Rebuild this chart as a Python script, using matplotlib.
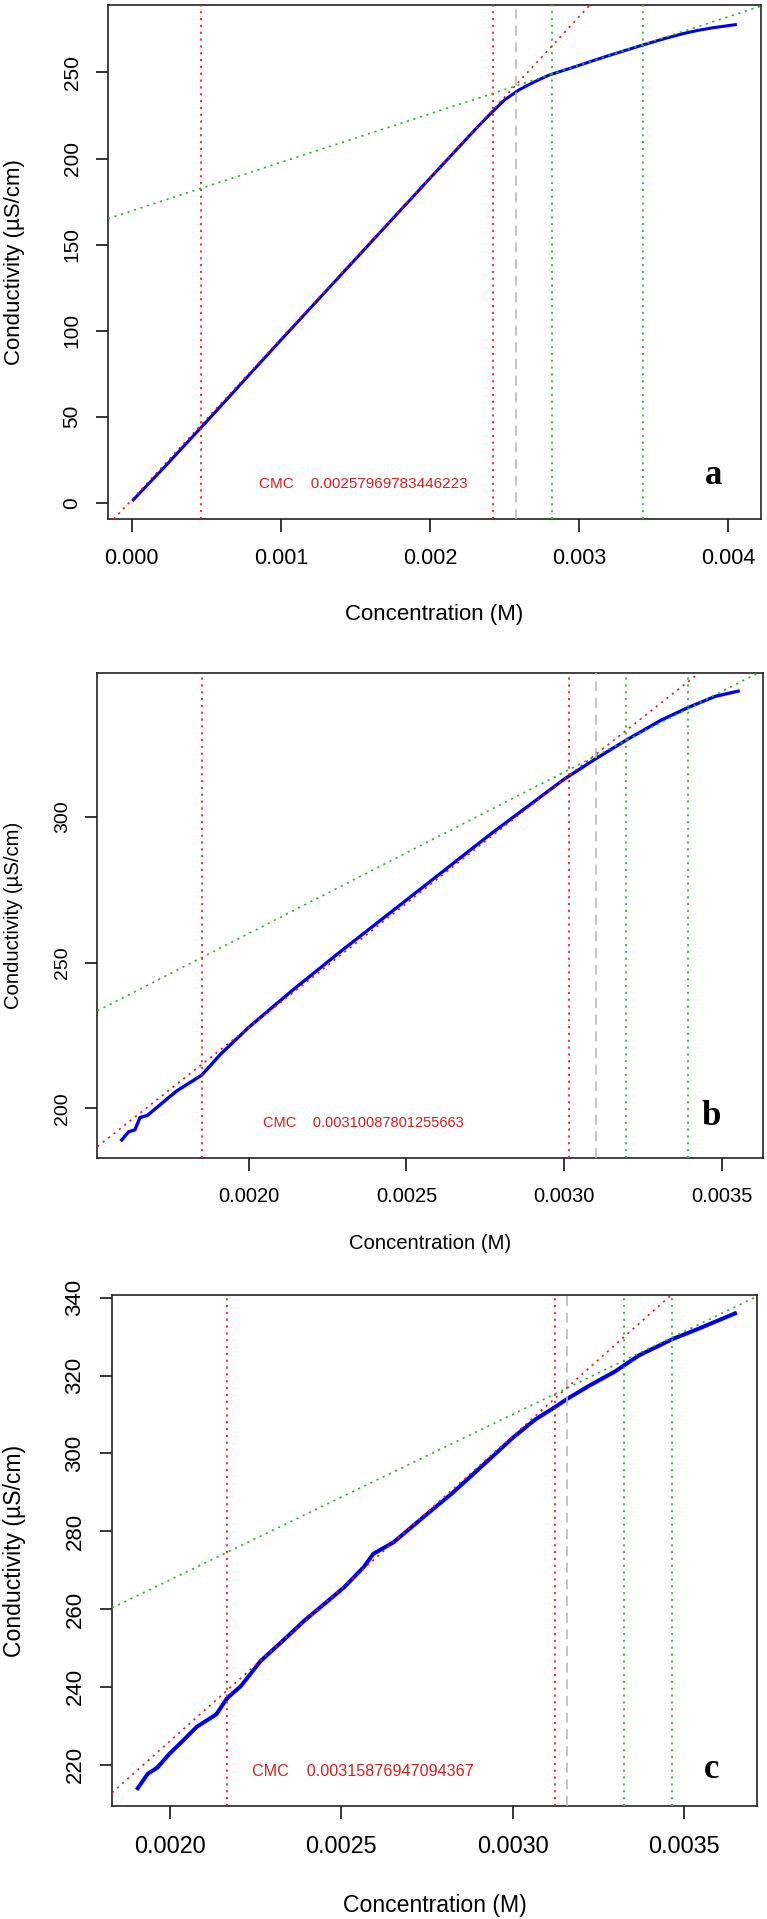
import matplotlib
matplotlib.use("Agg")
import matplotlib.pyplot as plt

plt.rcParams['font.family'] = ['Liberation Sans', 'DejaVu Sans']

# ---- panel a ----
conc_a = [0.00001, 0.0002, 0.0005, 0.0010, 0.0015, 0.0020, 0.0023, 0.0024, 0.0025,
          0.0026, 0.0027, 0.0028, 0.0029, 0.0030, 0.0031, 0.0032, 0.0033, 0.0034,
          0.0035, 0.0036, 0.0037, 0.0038, 0.0039, 0.0040, 0.00405]
cond_a = [1.7, 19.0, 47.0, 94.5, 141.5, 188.5, 216.5, 225.5, 234.0,
          240.0, 244.5, 248.5, 251.3, 254.1, 257.0, 259.8, 262.5, 265.2,
          267.8, 270.3, 272.6, 274.5, 276.0, 277.2, 277.8]
red_vlines_a = [0.000462, 0.002421]
green_vlines_a = [0.002818, 0.003432]
cmc_a = 0.00257969783446223
red_fit_a = (1.8, 93500)      # intercept, slope
green_fit_a = (169.6, 28180)

# ---- panel b ----
conc_b = [0.001598, 0.00162, 0.00164, 0.001656, 0.001679, 0.00171, 0.001772, 0.001851,
          0.001912, 0.0020, 0.002144, 0.002299, 0.0025, 0.002765, 0.0030, 0.0031,
          0.003195, 0.003308, 0.003393, 0.003478, 0.003551]
cond_b = [189.2, 192.0, 192.7, 196.9, 197.6, 200.4, 206.0, 211.4,
          218.7, 227.8, 241.0, 254.5, 271.5, 294.0, 313.0, 320.0,
          326.3, 333.3, 337.6, 341.4, 343.2]
red_vlines_b = [0.001851, 0.0030146]
green_vlines_b = [0.0031945, 0.0033931]
cmc_b = 0.00310087801255663
red_fit_b = (57.3, 85230)
green_fit_b = (149.25, 55390)

# ---- panel c ----
conc_c = [0.001907, 0.001936, 0.001964, 0.0020, 0.002043, 0.002079, 0.002136, 0.002168,
          0.002208, 0.002265, 0.002337, 0.002394, 0.002451, 0.002509, 0.002566, 0.002594,
          0.002652, 0.002738, 0.002824, 0.00291, 0.0030, 0.003067, 0.003125, 0.00316,
          0.003225, 0.003297, 0.003368, 0.003466, 0.00354, 0.003648]
cond_c = [213.9, 217.6, 219.2, 222.8, 226.5, 229.7, 232.9, 237.1,
          240.2, 246.6, 252.4, 257.1, 261.3, 265.6, 270.8, 274.2,
          277.1, 283.5, 289.8, 296.7, 304.0, 308.8, 312.0, 314.1,
          317.5, 321.0, 325.2, 329.4, 332.0, 336.0]
red_vlines_c = [0.0021676, 0.0031246]
green_vlines_c = [0.0033252, 0.0034656]
cmc_c = 0.00315876947094367
red_fit_c = (68.9, 78520)
green_fit_c = (182.2, 42615)

RED = '#e41a1a'
GREEN = '#2ab52a'
GREY = '#bbbbbb'
BLUE = '#0000ee'

panels = [
    dict(x=conc_a, y=cond_a, red=red_vlines_a, green=green_vlines_a, cmc=cmc_a,
         rfit=red_fit_a, gfit=green_fit_a, letter='a', lw=2.2,
         pos=[0.1408, 0.7295, 0.8510, 0.2677], xlim=(-0.00016, 0.00422), ylim=(-9.5, 289),
         xticks=[0, 0.001, 0.002, 0.003, 0.004], xfmt='%.3f', yticks=[0, 50, 100, 150, 200, 250],
         fs_x=15.5, fs_y=15, fs_lab=16, fs_cmc=11, cmc_xy=(0.00155, 11),
         let_xy=(0.003904, 10.9), xlab_y=-0.185, ylab_x=-0.144),
    dict(x=conc_b, y=cond_b, red=red_vlines_b, green=green_vlines_b, cmc=cmc_b,
         rfit=red_fit_b, gfit=green_fit_b, letter='b', lw=2.4,
         pos=[0.1270, 0.3967, 0.8678, 0.2527], xlim=(0.001521, 0.003630), ylim=(183.1, 349.5),
         xticks=[0.002, 0.0025, 0.003, 0.0035], xfmt='%.4f', yticks=[200, 250, 300],
         fs_x=14.5, fs_y=14, fs_lab=14.6, fs_cmc=10.5, cmc_xy=(0.002363, 195.1),
         let_xy=(0.003466, 194.4), xlab_y=-0.1777, ylab_x=-0.1256),
    dict(x=conc_c, y=cond_c, red=red_vlines_c, green=green_vlines_c, cmc=cmc_c,
         rfit=red_fit_c, gfit=green_fit_c, letter='c', lw=2.9,
         pos=[0.1460, 0.0589, 0.8409, 0.2662], xlim=(0.001832, 0.003712), ylim=(209.35, 340.7),
         xticks=[0.002, 0.0025, 0.003, 0.0035], xfmt='%.4f', yticks=[220, 240, 260, 280, 300, 320, 340],
         fs_x=16.8, fs_y=16, fs_lab=16.6, fs_cmc=11.6, cmc_xy=(0.0025645, 218.1),
         let_xy=(0.003579, 216.5), xlab_y=-0.194, ylab_x=-0.1508),
]

fig = plt.figure(figsize=(7.67, 19.19), dpi=100)

for p in panels:
    ax = fig.add_axes(p['pos'])
    ax.plot(p['x'], p['y'], color=BLUE, lw=p['lw'], zorder=2)
    for xv in p['red']:
        ax.axvline(xv, color=RED, lw=1.2, ls=(0, (1.3, 2.8)), zorder=3)
    for xv in p['green']:
        ax.axvline(xv, color=GREEN, lw=1.2, ls=(0, (1.3, 2.8)), zorder=3)
    ax.axvline(p['cmc'], color=GREY, lw=1.2, ls=(0, (6, 4)), zorder=3)
    b0, b1 = p['rfit']
    ax.axline((0, b0), slope=b1, color=RED, lw=1.2, ls=(0, (1.3, 2.8)), zorder=3)
    b0, b1 = p['gfit']
    ax.axline((0, b0), slope=b1, color=GREEN, lw=1.2, ls=(0, (1.3, 2.8)), zorder=3)

    ax.text(p['cmc_xy'][0], p['cmc_xy'][1], 'CMC    ' + repr(p['cmc']), color=RED,
            fontsize=p['fs_cmc'], ha='center', va='center')
    ax.text(p['let_xy'][0], p['let_xy'][1], p['letter'], fontsize=25, fontweight='bold',
            family='Liberation Serif', ha='center', va='baseline')

    ax.set_xlim(*p['xlim'])
    ax.set_ylim(*p['ylim'])
    ax.set_xticks(p['xticks'])
    ax.set_xticklabels([p['xfmt'] % t for t in p['xticks']])
    ax.set_yticks(p['yticks'])
    ax.set_yticklabels([str(t) for t in p['yticks']], rotation=90, va='center')
    ax.tick_params(axis='x', length=9, width=1.1, pad=12, labelsize=p['fs_x'])
    ax.tick_params(axis='y', length=9, width=1.1, pad=10, labelsize=p['fs_y'])
    for s in ax.spines.values():
        s.set_linewidth(1.2)
        s.set_color('#222222')

    ax.set_xlabel('Concentration (M)', fontsize=p['fs_lab'])
    ax.set_ylabel('Conductivity (µS/cm)', fontsize=p['fs_lab'])
    ax.xaxis.set_label_coords(0.5, p['xlab_y'])
    ax.xaxis.label.set_va('center')
    ax.yaxis.set_label_coords(p['ylab_x'], 0.5)
    ax.yaxis.label.set_va('center')

fig.savefig('out.png', dpi=100)
